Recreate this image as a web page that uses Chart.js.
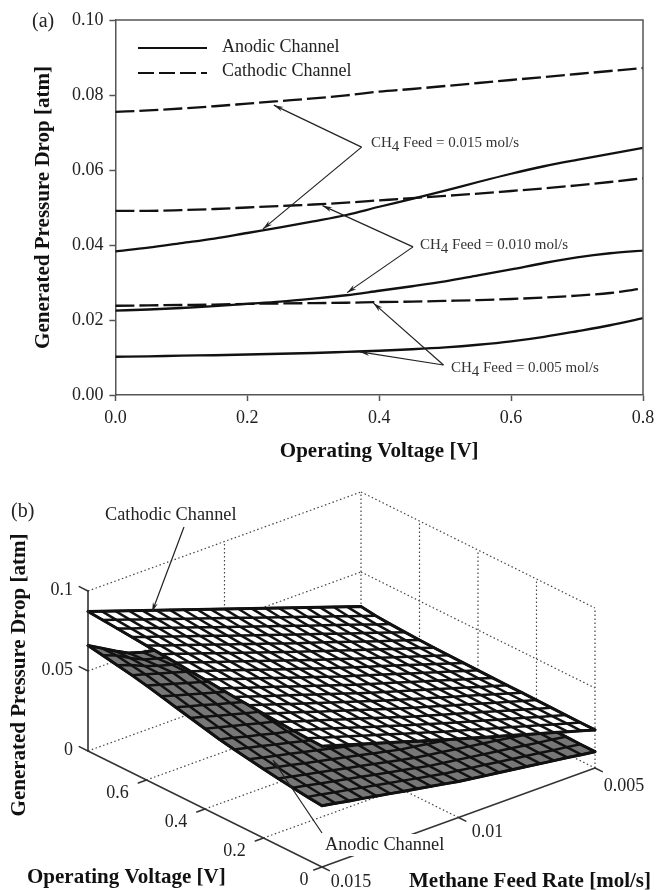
<!DOCTYPE html>
<html>
<head>
<meta charset="utf-8">
<title>Generated pressure drop</title>
<script src="https://cdn.jsdelivr.net/npm/chart.js@4"></script>
<style>
  html, body { margin: 0; background: #fff; }
  canvas { position: absolute; left: 0; filter: blur(0.5px); }
  #panelA { top: 0; }
  #panelB { top: 480px; }
</style>
</head>
<body>
<canvas id="panelA" width="657" height="480"></canvas>
<canvas id="panelB" width="657" height="410"></canvas>
<script>
// operating voltage [V], one entry per mesh column
const voltages = [0, 0.05, 0.1, 0.15, 0.2, 0.25, 0.3, 0.35, 0.4, 0.45, 0.5, 0.55, 0.6, 0.65, 0.7, 0.75, 0.8];
// methane feed [mol/s], one entry per mesh row
const feedRates = [0.015, 0.0145, 0.014, 0.0135, 0.013, 0.0125, 0.012, 0.0115, 0.011, 0.0105, 0.01,
  0.0095, 0.009, 0.0085, 0.008, 0.0075, 0.007, 0.0065, 0.006, 0.0055, 0.005];

// pressure drop, in 1e-4 atm: rows follow feedRates, columns follow voltages
const cathodic = [
  [755, 759, 764, 770, 777, 784, 791, 799, 809, 816, 824, 832, 840, 848, 856, 864, 872],
  [729, 732, 737, 743, 749, 756, 763, 770, 780, 787, 795, 803, 810, 818, 826, 834, 843],
  [702, 705, 710, 715, 722, 728, 734, 742, 751, 758, 765, 773, 781, 789, 797, 805, 813],
  [676, 679, 683, 688, 694, 700, 706, 713, 722, 729, 736, 744, 751, 759, 767, 775, 784],
  [649, 652, 656, 660, 666, 672, 678, 685, 693, 700, 707, 714, 722, 729, 737, 746, 754],
  [623, 625, 628, 633, 639, 644, 650, 656, 664, 671, 678, 685, 692, 700, 708, 716, 725],
  [597, 598, 601, 606, 611, 616, 621, 627, 635, 641, 648, 655, 662, 670, 678, 686, 696],
  [570, 571, 574, 578, 583, 588, 593, 599, 606, 612, 619, 626, 633, 640, 648, 657, 666],
  [544, 545, 547, 551, 555, 560, 565, 570, 577, 583, 590, 596, 603, 610, 618, 627, 637],
  [517, 518, 520, 523, 528, 532, 536, 542, 548, 554, 560, 567, 574, 581, 589, 598, 607],
  [491, 491, 493, 496, 500, 504, 508, 513, 519, 525, 531, 537, 544, 551, 559, 568, 578],
  [466, 466, 468, 470, 474, 478, 482, 486, 492, 497, 503, 509, 515, 522, 530, 538, 549],
  [440, 441, 442, 445, 449, 452, 455, 460, 465, 470, 475, 480, 486, 493, 500, 509, 519],
  [415, 415, 417, 419, 423, 426, 429, 433, 438, 442, 447, 452, 458, 464, 471, 479, 490],
  [390, 390, 392, 394, 397, 400, 403, 406, 411, 415, 419, 423, 429, 435, 441, 450, 460],
  [364, 365, 366, 368, 372, 374, 376, 380, 383, 387, 391, 395, 400, 405, 412, 420, 431],
  [339, 340, 341, 343, 346, 348, 350, 353, 356, 359, 363, 367, 371, 376, 383, 390, 402],
  [314, 315, 316, 317, 320, 322, 324, 326, 329, 332, 335, 338, 342, 347, 353, 361, 372],
  [289, 289, 290, 292, 294, 296, 297, 299, 302, 304, 307, 310, 314, 318, 324, 331, 343],
  [263, 264, 265, 266, 269, 270, 271, 273, 275, 277, 279, 282, 285, 289, 294, 302, 313],
  [238, 239, 240, 241, 243, 244, 245, 246, 248, 249, 251, 253, 256, 260, 265, 272, 284],
];
const anodic = [
  [383, 393, 405, 417, 432, 447, 463, 480, 502, 523, 545, 568, 590, 610, 627, 643, 659],
  [367, 377, 388, 399, 413, 427, 442, 459, 480, 500, 521, 543, 565, 584, 597, 612, 612],
  [351, 360, 370, 381, 394, 407, 422, 437, 457, 476, 497, 518, 539, 558, 560, 565, 563],
  [336, 344, 353, 363, 375, 388, 401, 416, 435, 453, 472, 493, 514, 533, 530, 525, 519],
  [320, 327, 336, 345, 356, 368, 381, 394, 412, 430, 448, 468, 488, 507, 506, 500, 494],
  [304, 311, 319, 327, 338, 348, 360, 373, 390, 407, 424, 444, 463, 481, 487, 480, 476],
  [288, 294, 301, 309, 319, 328, 339, 352, 368, 383, 400, 419, 437, 455, 467, 461, 458],
  [272, 278, 284, 291, 300, 308, 319, 330, 345, 360, 376, 394, 412, 429, 446, 441, 440],
  [257, 261, 267, 273, 281, 289, 298, 309, 323, 337, 351, 369, 386, 404, 421, 422, 421],
  [241, 245, 249, 255, 262, 269, 278, 287, 300, 313, 327, 344, 361, 378, 394, 400, 403],
  [225, 228, 232, 237, 243, 249, 257, 266, 278, 290, 303, 319, 335, 352, 367, 378, 385],
  [213, 216, 219, 224, 230, 235, 243, 251, 262, 273, 285, 301, 316, 332, 347, 359, 367],
  [200, 203, 207, 211, 216, 221, 228, 236, 246, 256, 268, 282, 297, 313, 328, 340, 349],
  [188, 191, 194, 198, 203, 207, 214, 221, 230, 240, 250, 264, 277, 293, 308, 320, 331],
  [176, 178, 181, 185, 189, 193, 199, 206, 214, 223, 233, 245, 258, 273, 288, 301, 313],
  [164, 166, 169, 172, 176, 180, 185, 190, 198, 206, 215, 227, 239, 254, 269, 282, 295],
  [151, 153, 156, 159, 162, 166, 170, 175, 182, 189, 197, 208, 220, 234, 249, 263, 277],
  [139, 141, 143, 146, 149, 152, 156, 160, 166, 172, 180, 190, 201, 214, 229, 244, 259],
  [127, 128, 130, 132, 135, 138, 141, 145, 150, 156, 162, 171, 181, 195, 209, 224, 241],
  [114, 116, 118, 119, 122, 124, 127, 130, 134, 139, 145, 153, 162, 175, 190, 205, 223],
  [102, 103, 105, 106, 108, 110, 112, 115, 118, 122, 127, 134, 143, 155, 170, 186, 205],
];

// rows of the tables above that panel (a) plots: feed 0.015, 0.010, 0.005
const plottedRows = [0, 10, 20];

// panel (a) callouts, in axis units: [voltage, pressure]
const feedLabels = ["0.015", "0.010", "0.005"];
const labelAnchors = [[0.3876, 0.0671], [0.4619, 0.0400], [0.5087, 0.0072]];
const arrowApexes = [[0.3733, 0.0661], [0.4513, 0.0395], [0.4975, 0.0080]];
const arrowTipsCathodic = [[0.2402, 0.0773], [0.3141, 0.0505], [0.3913, 0.0245]];
const arrowTipsAnodic = [[0.2238, 0.0443], [0.3512, 0.0273], [0.3708, 0.0115]];

// panel (b) axis ticks
const voltageTicks = [0, 0.2, 0.4, 0.6];
const feedTicks = [0.015, 0.01, 0.005];
const pressureTicks = [0, 0.05, 0.1];

const SERIF = '"Liberation Serif", "Times New Roman", serif';
const TEXT = "#222";

function drawArrow(ctx, x0, y0, x1, y1) {
  const angle = Math.atan2(y1 - y0, x1 - x0);
  ctx.beginPath();
  ctx.moveTo(x0, y0);
  ctx.lineTo(x1, y1);
  ctx.stroke();
  // slim barbed head
  const back = 10;
  ctx.beginPath();
  ctx.moveTo(x1, y1);
  ctx.lineTo(x1 - back * Math.cos(angle + 0.26), y1 - back * Math.sin(angle + 0.26));
  ctx.lineTo(x1 - 0.65 * back * Math.cos(angle), y1 - 0.65 * back * Math.sin(angle));
  ctx.lineTo(x1 - back * Math.cos(angle - 0.26), y1 - back * Math.sin(angle - 0.26));
  ctx.closePath();
  ctx.fillStyle = ctx.strokeStyle;
  ctx.fill();
}

function drawFeedLabel(ctx, x, y, feed) {
  ctx.font = `15px ${SERIF}`;
  ctx.textAlign = "left";
  ctx.textBaseline = "middle";
  ctx.fillStyle = "#333";
  ctx.fillText("CH", x, y);
  const w = ctx.measureText("CH").width;
  ctx.fillText("4", x + w, y + 4);
  ctx.fillText(` Feed = ${feed} mol/s`, x + w + ctx.measureText("4").width, y);
}

const annotatePanelA = {
  id: "annotatePanelA",
  afterDraw(chart) {
    const { ctx, chartArea, scales } = chart;
    const at = (p) => [scales.x.getPixelForValue(p[0]), scales.y.getPixelForValue(p[1])];
    ctx.save();

    // top and right sides of the frame
    ctx.strokeStyle = "#555";
    ctx.lineWidth = 1.5;
    ctx.beginPath();
    ctx.moveTo(chartArea.left, chartArea.top);
    ctx.lineTo(chartArea.right, chartArea.top);
    ctx.lineTo(chartArea.right, chartArea.bottom);
    ctx.stroke();

    // legend
    ctx.strokeStyle = "#111";
    ctx.lineWidth = 2.2;
    ctx.beginPath();
    ctx.moveTo(138, 48);
    ctx.lineTo(207, 48);
    ctx.stroke();
    ctx.setLineDash([16, 5]);
    ctx.beginPath();
    ctx.moveTo(138, 73);
    ctx.lineTo(207, 73);
    ctx.stroke();
    ctx.setLineDash([]);
    ctx.font = `18px ${SERIF}`;
    ctx.fillStyle = TEXT;
    ctx.textAlign = "left";
    ctx.textBaseline = "middle";
    ctx.fillText("Anodic Channel", 222, 47);
    ctx.fillText("Cathodic Channel", 222, 71);

    // panel letter
    ctx.font = `20px ${SERIF}`;
    ctx.fillText("(a)", 32, 22);

    // callouts
    ctx.strokeStyle = "#222";
    ctx.lineWidth = 1.2;
    feedLabels.forEach((feed, i) => {
      const apex = at(arrowApexes[i]);
      drawArrow(ctx, apex[0], apex[1], ...at(arrowTipsCathodic[i]));
      drawArrow(ctx, apex[0], apex[1], ...at(arrowTipsAnodic[i]));
      const pos = at(labelAnchors[i]);
      drawFeedLabel(ctx, pos[0], pos[1], feed);
    });
    ctx.restore();
  },
};

function curve(table, row, dashed) {
  return {
    data: voltages.map((v, j) => ({ x: v, y: table[row][j] / 10000 })),
    showLine: true,
    pointRadius: 0,
    borderColor: "#111",
    borderWidth: 2.3,
    borderDash: dashed ? [19, 5] : [],
    cubicInterpolationMode: "monotone",
  };
}

new Chart(document.getElementById("panelA"), {
  type: "scatter",
  data: {
    datasets: plottedRows.flatMap((row) => [curve(anodic, row, false), curve(cathodic, row, true)]),
  },
  plugins: [annotatePanelA],
  options: {
    responsive: false,
    animation: false,
    devicePixelRatio: 1,
    layout: { padding: { top: 20, right: 14, left: 0, bottom: 0 } },
    plugins: { legend: { display: false }, tooltip: { enabled: false } },
    scales: {
      x: {
        type: "linear",
        min: 0,
        max: 0.8,
        // keep the plot's right edge from moving in for the last tick label
        afterFit: (scale) => { scale.height = 85; scale.paddingRight = 0; },
        border: { color: "#555", width: 1.5 },
        grid: { drawOnChartArea: false, tickLength: 6, tickColor: "#555", tickWidth: 1.5 },
        ticks: {
          stepSize: 0.2,
          color: TEXT,
          padding: 6,
          maxRotation: 0,
          font: { family: SERIF, size: 18 },
          callback: (value) => value.toFixed(1),
        },
        title: {
          display: true,
          text: "Operating Voltage [V]",
          color: "#111",
          font: { family: SERIF, size: 21, weight: "bold" },
          padding: { top: 0, bottom: 16 },
        },
      },
      y: {
        min: 0,
        max: 0.1,
        afterFit: (scale) => { scale.width = 115.4; },
        border: { color: "#555", width: 1.5 },
        grid: { drawOnChartArea: false, tickLength: 6, tickColor: "#555", tickWidth: 1.5 },
        ticks: {
          stepSize: 0.02,
          color: TEXT,
          padding: 6,
          font: { family: SERIF, size: 18 },
          callback: (value) => value.toFixed(2),
        },
        title: {
          display: true,
          text: "Generated Pressure Drop [atm]",
          color: "#111",
          font: { family: SERIF, size: 21, weight: "bold" },
          padding: { top: 31, bottom: 0 },
        },
      },
    },
  },
});

// panel (b): parallel projection of (voltage, feed, pressure) on to the page
function project(v, f, p) {
  const a = v / 0.8;
  const b = (0.015 - f) / 0.01;
  return { x: 322 - 234 * a + 273 * b, y: 867 - 116 * a - 99 * b - 1600 * p };
}

function line3d(points, style) {
  return Object.assign({
    data: points.map((q) => project(q[0], q[1], q[2])),
    showLine: true,
    pointRadius: 0,
    borderColor: "#111",
    borderWidth: 1,
    borderJoinStyle: "round",
    borderCapStyle: "round",
    clip: false,
  }, style);
}

const DOTTED = { borderColor: "#444", borderWidth: 1.2, borderDash: [1.5, 2.5], borderCapStyle: "butt" };
const wallLines = [];
// rear left wall, voltage 0.8
pressureTicks.forEach((p) => wallLines.push(line3d([[0.8, 0.015, p], [0.8, 0.005, p]], DOTTED)));
wallLines.push(line3d([[0.8, 0.01, 0], [0.8, 0.01, 0.1]], DOTTED));
// rear right wall, feed 0.005
pressureTicks.forEach((p) => wallLines.push(line3d([[0.8, 0.005, p], [0, 0.005, p]], DOTTED)));
[0.8, 0.6, 0.4, 0.2, 0].forEach((v) => wallLines.push(line3d([[v, 0.005, 0], [v, 0.005, 0.1]], DOTTED)));
// floor
[0.6, 0.4, 0.2].forEach((v) => wallLines.push(line3d([[v, 0.015, 0], [v, 0.005, 0]], DOTTED)));
wallLines.push(line3d([[0, 0.01, 0], [0.8, 0.01, 0]], DOTTED));

function surface(table, fillColor) {
  const node = (i, j) => [voltages[j], feedRates[i], table[i][j] / 10000];
  const lastRow = feedRates.length - 1;
  const lastCol = voltages.length - 1;
  const outline = [];
  for (let j = 0; j <= lastCol; j++) outline.push(node(0, j));
  for (let i = 1; i <= lastRow; i++) outline.push(node(i, lastCol));
  for (let j = lastCol - 1; j >= 0; j--) outline.push(node(lastRow, j));
  for (let i = lastRow - 1; i >= 0; i--) outline.push(node(i, 0));

  const mesh = [line3d(outline, { fill: "shape", backgroundColor: fillColor, borderWidth: 3 })];
  feedRates.forEach((f, i) => {
    mesh.push(line3d(voltages.map((v, j) => node(i, j)), { borderWidth: 2.5 }));
  });
  voltages.forEach((v, j) => {
    mesh.push(line3d(feedRates.map((f, i) => node(i, j)), { borderWidth: 2.5 }));
  });
  return mesh;
}

const AXIS = { borderColor: "#333", borderWidth: 1.5 };
const axisLines = [
  line3d([[0.8, 0.015, 0], [0.8, 0.015, 0.1]], { borderColor: "#222", borderWidth: 1.5 }),
  line3d([[0.8, 0.015, 0], [0, 0.015, 0]], AXIS),
  line3d([[0, 0.015, 0], [0, 0.005, 0]], AXIS),
];
pressureTicks.forEach((p) => axisLines.push(line3d([[0.8, 0.015, p], [0.83, 0.015, p]], AXIS)));
voltageTicks.forEach((v) => axisLines.push(line3d([[v, 0.015, 0], [v, 0.0153, 0]], AXIS)));
feedTicks.forEach((f) => axisLines.push(line3d([[0, f, 0], [-0.025, f, 0]], AXIS)));

const annotatePanelB = {
  id: "annotatePanelB",
  afterDraw(chart) {
    const { ctx } = chart;
    ctx.save();
    ctx.translate(0, -480);
    ctx.fillStyle = TEXT;
    ctx.textBaseline = "middle";
    ctx.textAlign = "center";

    ctx.font = `18px ${SERIF}`;
    pressureTicks.forEach((p) => {
      const q = project(0.8, 0.015, p);
      ctx.textAlign = "right";
      ctx.fillText(String(p), q.x - 15, q.y - 1);
    });
    ctx.textAlign = "center";
    voltageTicks.forEach((v) => {
      const q = project(v, 0.015, 0);
      const dx = v === 0 ? -18 : -29;
      ctx.fillText(String(v), q.x + dx, q.y + 13);
    });
    feedTicks.forEach((f) => {
      const q = project(0, f, 0);
      ctx.fillText(String(f), q.x + 29, q.y + (f === 0.005 ? 18 : 15));
    });

    // the label sits on a white box that breaks the feed axis
    ctx.fillStyle = "#fff";
    ctx.fillRect(323, 834, 126, 22);
    ctx.fillStyle = TEXT;
    ctx.textAlign = "left";
    ctx.font = `18.3px ${SERIF}`;
    ctx.fillText("Anodic Channel", 325, 845);
    ctx.fillText("Cathodic Channel", 105, 515);
    ctx.font = `20px ${SERIF}`;
    ctx.fillText("(b)", 11, 512);

    ctx.strokeStyle = "#222";
    ctx.lineWidth = 1.2;
    drawArrow(ctx, 184, 527, 152, 612);
    drawArrow(ctx, 322, 833, 273, 760);

    ctx.fillStyle = "#111";
    ctx.font = `bold 21px ${SERIF}`;
    ctx.fillText("Operating Voltage [V]", 27, 878);
    ctx.fillText("Methane Feed Rate [mol/s]", 409, 882);
    ctx.translate(20, 675);
    ctx.rotate(-Math.PI / 2);
    ctx.textAlign = "center";
    ctx.fillText("Generated Pressure Drop [atm]", 0, 0);
    ctx.restore();
  },
};

// painted in this order; Chart.js draws the first dataset last, hence the reverse
const panelBDatasets = [
  ...wallLines,
  ...surface(anodic, "#777"),
  ...surface(cathodic, "#fff"),
  ...axisLines,
].reverse();

new Chart(document.getElementById("panelB"), {
  type: "scatter",
  data: { datasets: panelBDatasets },
  plugins: [annotatePanelB],
  options: {
    responsive: false,
    animation: false,
    devicePixelRatio: 1,
    layout: { padding: 0 },
    plugins: { legend: { display: false }, tooltip: { enabled: false } },
    scales: {
      x: { type: "linear", min: 0, max: 657, display: false },
      y: { type: "linear", min: 480, max: 890, reverse: true, display: false },
    },
  },
});
</script>
</body>
</html>
